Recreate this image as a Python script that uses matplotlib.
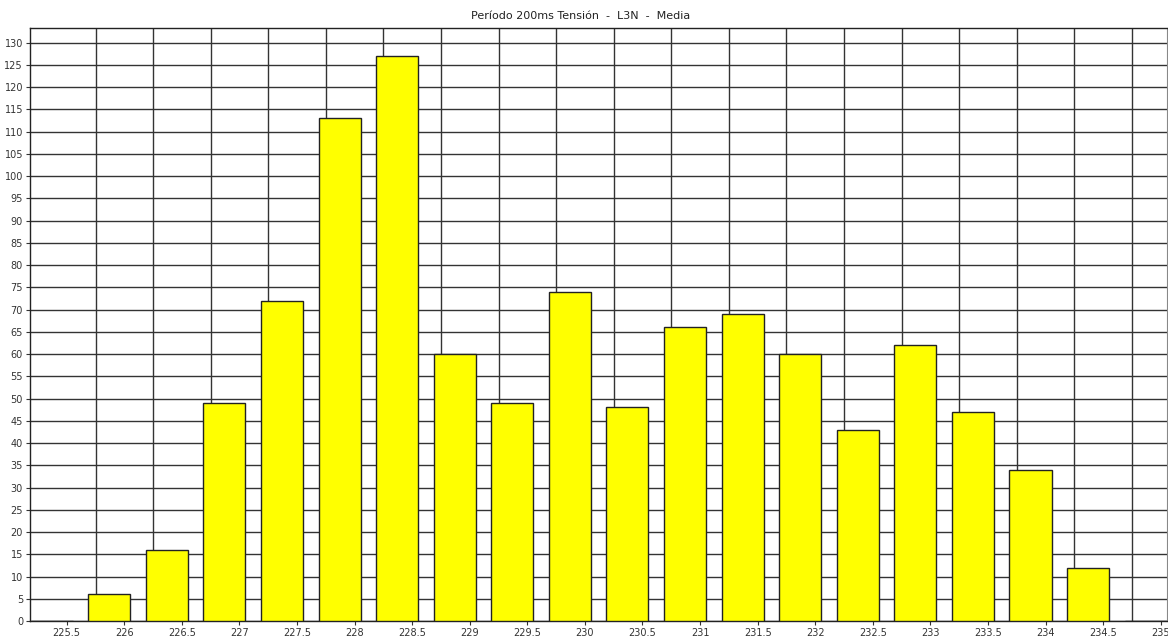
import matplotlib.pyplot as plt
import numpy as np

# bin labels (V) and counts
bins = [225.5, 226, 226.5, 227, 227.5, 228, 228.5, 229, 229.5, 230,
        230.5, 231, 231.5, 232, 232.5, 233, 233.5, 234, 234.5, 235]
counts = [0, 6, 16, 49, 72, 113, 127, 60, 49, 74,
          48, 66, 69, 60, 43, 62, 47, 34, 12, 0]
title = 'Período 200ms Tensión  -  L3N  -  Media'

BAR_WIDTH = 0.365
BAR_SHIFT = -0.313
GRID_COLOR = '#333333'

fig = plt.figure(figsize=(11.68, 6.39), dpi=100)
ax = fig.add_axes([30 / 1168, 18 / 639, 1137 / 1168, 593 / 639])

x = np.array(bins)
ax.bar(x + BAR_SHIFT, counts, width=BAR_WIDTH, align='edge',
       color='#ffff00', edgecolor='#222222', linewidth=1.0, zorder=3)

# vertical grid sits halfway between labels
for gx in x[:-1] + 0.25:
    ax.axvline(gx, color=GRID_COLOR, linewidth=1.0, zorder=1)
ax.set_yticks(np.arange(0, 131, 5))
ax.yaxis.grid(True, color=GRID_COLOR, linewidth=1.0, zorder=1)
ax.set_axisbelow(True)

ax.set_xticks(bins)
ax.set_xticklabels(['%g' % b for b in bins])
ax.set_xlim(225.181, 235.055)
ax.set_ylim(0, 133.3)

ax.tick_params(axis='both', labelsize=7, colors='#333333', length=3, width=0.8, pad=2)
for side in ['left', 'bottom', 'top']:
    ax.spines[side].set_color('#222222')
    ax.spines[side].set_linewidth(1.0)
ax.spines['right'].set_color('#888888')

fig.text(0.497, 0.975, title, ha='center', va='center', fontsize=8, color='#222222')

plt.savefig('out.png', dpi=100)
